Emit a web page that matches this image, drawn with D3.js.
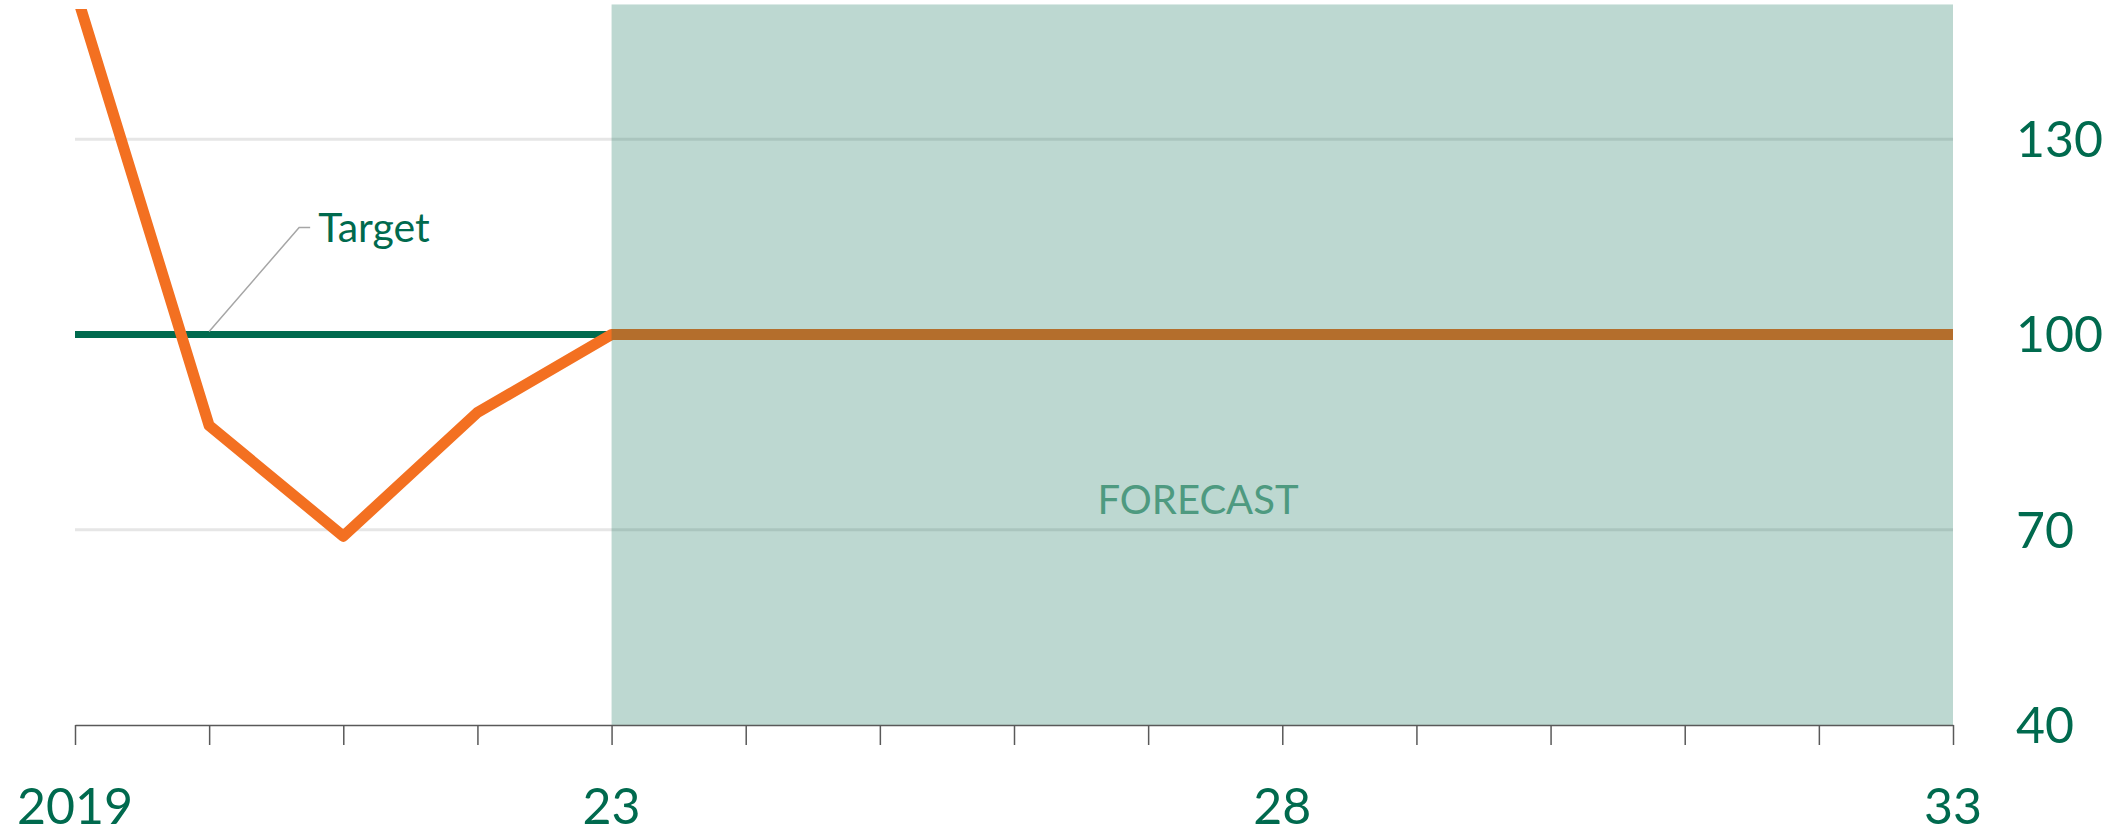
<!DOCTYPE html>
<html>
<head>
<meta charset="utf-8">
<script src="https://cdn.jsdelivr.net/npm/d3@7"></script>
<style>
  html, body { margin: 0; padding: 0; background: #ffffff; }
  svg { display: block; }
  text { font-family: Lato, "Open Sans", sans-serif; }
</style>
</head>
<body>
<svg id="chart" width="2112" height="836"></svg>
<script>
// ---- data ----
const years = [2019, 2020, 2021, 2022, 2023, 2024, 2025, 2026, 2027, 2028, 2029, 2030, 2031, 2032, 2033];
const indexValues = [153, 86, 69, 88, 100, 100, 100, 100, 100, 100, 100, 100, 100, 100, 100];
const targetValues = [100, 100, 100, 100, 100, 100, 100, 100, 100, 100, 100, 100, 100, 100, 100];
const forecastStart = 2023;
const forecastEnd = 2033;
const forecastTop = 150.7;
const yTicks = [40, 70, 100, 130];
const xLabelYears = [2019, 2023, 2028, 2033];
const xLabelTexts = ["2019", "23", "28", "33"];
const targetLabel = "Target";
const targetLabelYear = 2020;
const forecastLabel = "FORECAST";

// ---- layout ----
const W = 2112, H = 836;
const mLeft = 75, mRight = 1953, mTop = 9, mBottom = 725;
const green = "#006A4E", orange = "#F37021";

const svg = d3.select("#chart");
const x = d3.scaleLinear().domain([2019, 2033]).range([mLeft, mRight]);
const y = d3.scaleLinear().domain([40, 150]).range([mBottom, mTop]);

svg.append("defs").append("clipPath").attr("id", "plotclip")
  .append("rect").attr("x", 0).attr("y", mTop).attr("width", W).attr("height", mBottom - mTop);

// gridlines
svg.append("g").selectAll("line").data(yTicks.filter(d => d !== 40)).join("line")
  .attr("x1", mLeft).attr("x2", mRight)
  .attr("y1", d => y(d)).attr("y2", d => y(d))
  .attr("stroke", "#E6E6E6").attr("stroke-width", 3);

// target line
const line = d3.line().x((d, i) => x(years[i])).y(d => y(d));
svg.append("path").datum(targetValues)
  .attr("d", line).attr("fill", "none")
  .attr("stroke", green).attr("stroke-width", 7);

// index line
svg.append("path").datum(indexValues)
  .attr("clip-path", "url(#plotclip)")
  .attr("d", line).attr("fill", "none")
  .attr("stroke", orange).attr("stroke-width", 11)
  .attr("stroke-linejoin", "round").attr("stroke-linecap", "butt");

// forecast band
svg.append("rect")
  .attr("x", x(forecastStart)).attr("width", x(forecastEnd) - x(forecastStart))
  .attr("y", y(forecastTop)).attr("height", y(40) - y(forecastTop))
  .attr("fill", green).attr("fill-opacity", 0.26);

// x axis
const xAxis = d3.axisBottom(x).tickValues(years).tickSize(20).tickFormat("").tickSizeOuter(0);
const gx = svg.append("g").attr("transform", `translate(0,${mBottom})`).call(xAxis);
gx.select(".domain").attr("stroke", "#595959").attr("stroke-width", 1.5);
gx.selectAll(".tick line").attr("stroke", "#595959").attr("stroke-width", 1.5);

// x labels
svg.append("g").selectAll("text").data(xLabelYears).join("text")
  .attr("x", d => x(d)).attr("y", 824)
  .attr("text-anchor", "middle")
  .attr("font-size", 50).attr("fill", green)
  .text((d, i) => xLabelTexts[i]);

// y labels (right side)
svg.append("g").selectAll("text").data(yTicks).join("text")
  .attr("x", 2016).attr("y", d => y(d))
  .attr("dy", "0.36em")
  .attr("font-size", 50).attr("fill", green)
  .text(d => d);

// target label with leader
const lx0 = x(targetLabelYear), ly0 = y(100) - 3;
svg.append("polyline")
  .attr("points", `${lx0},${ly0} ${lx0 + 90},${ly0 - 104} ${lx0 + 101},${ly0 - 104}`)
  .attr("fill", "none").attr("stroke", "#A6A6A6").attr("stroke-width", 1.5);
svg.append("text")
  .attr("x", lx0 + 109).attr("y", ly0 - 104).attr("dy", "0.36em")
  .attr("font-size", 41).attr("fill", green)
  .text(targetLabel);

// forecast label
svg.append("text")
  .attr("x", 1198).attr("y", 500).attr("dy", "0.36em")
  .attr("text-anchor", "middle")
  .attr("font-size", 40).attr("fill", "#4E9A80")
  .text(forecastLabel);
</script>
</body>
</html>
